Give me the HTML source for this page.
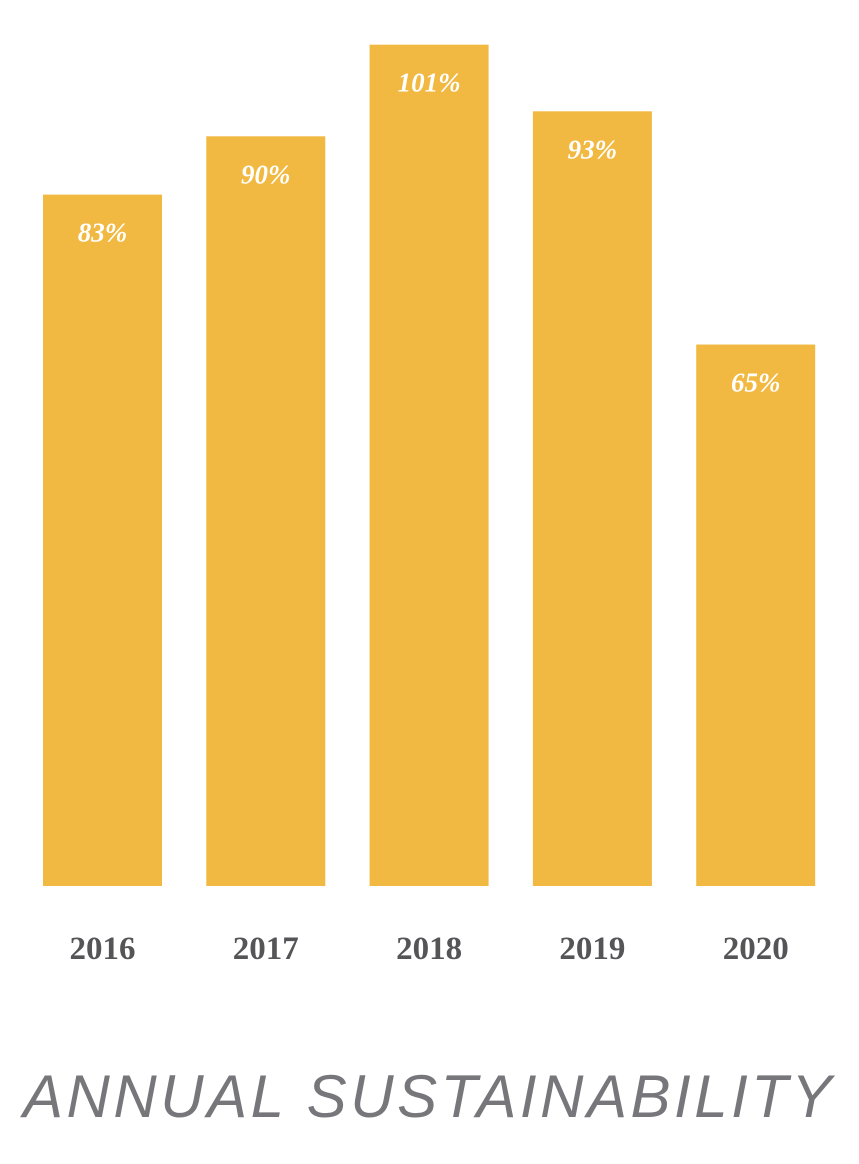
<!DOCTYPE html>
<html><head><meta charset="utf-8"><style>
body{margin:0;background:#fff;width:859px;height:1164px;overflow:hidden}
svg{display:block}
</style></head><body>
<svg id="chart" width="859" height="1164" viewBox="0 0 859 1164" xmlns="http://www.w3.org/2000/svg">
<g id="bars"></g>
<text x="430" y="1117" text-anchor="middle" font-family="Liberation Sans, sans-serif" font-style="italic" font-size="60" fill="#77777b" letter-spacing="5.5" textLength="814">ANNUAL SUSTAINABILITY</text>
</svg>
<script>
const categories = ["2016","2017","2018","2019","2020"];
const values = [83, 90, 101, 93, 65];
const valueLabels = ["83%","90%","101%","93%","65%"];
const NS="http://www.w3.org/2000/svg";
const baseY=886, pxPer=8.33, barW=119;
const xLeft=[43,206,369,533,696];
function xScale(i){return 43 + i*163.3;}
function yScale(v){return baseY - v*pxPer;}
const g=document.getElementById('bars');
categories.forEach((c,i)=>{
  const x=xScale(i), y=yScale(values[i]);
  const r=document.createElementNS(NS,'rect');
  
  
  r.setAttribute('x',x);r.setAttribute('y',y);r.setAttribute('width',barW);r.setAttribute('height',baseY-y);
  r.setAttribute('fill','#f1b942');
  g.appendChild(r);
  const t=document.createElementNS(NS,'text');
  
  
  t.setAttribute('x',x+barW/2);t.setAttribute('y',y+47);
  t.setAttribute('text-anchor','middle');t.setAttribute('fill','#fff');
  t.setAttribute('font-family','Liberation Serif, serif');t.setAttribute('font-weight','bold');t.setAttribute('font-style','italic');t.setAttribute('font-size','27');
  t.textContent=valueLabels[i];
  g.appendChild(t);
  const l=document.createElementNS(NS,'text');
  
  
  l.setAttribute('x',x+barW/2);l.setAttribute('y',959);
  l.setAttribute('text-anchor','middle');l.setAttribute('fill','#555558');
  l.setAttribute('font-family','Liberation Serif, serif');l.setAttribute('font-weight','bold');l.setAttribute('font-size','33');
  l.textContent=c;
  g.appendChild(l);
});
</script>
</body></html>
